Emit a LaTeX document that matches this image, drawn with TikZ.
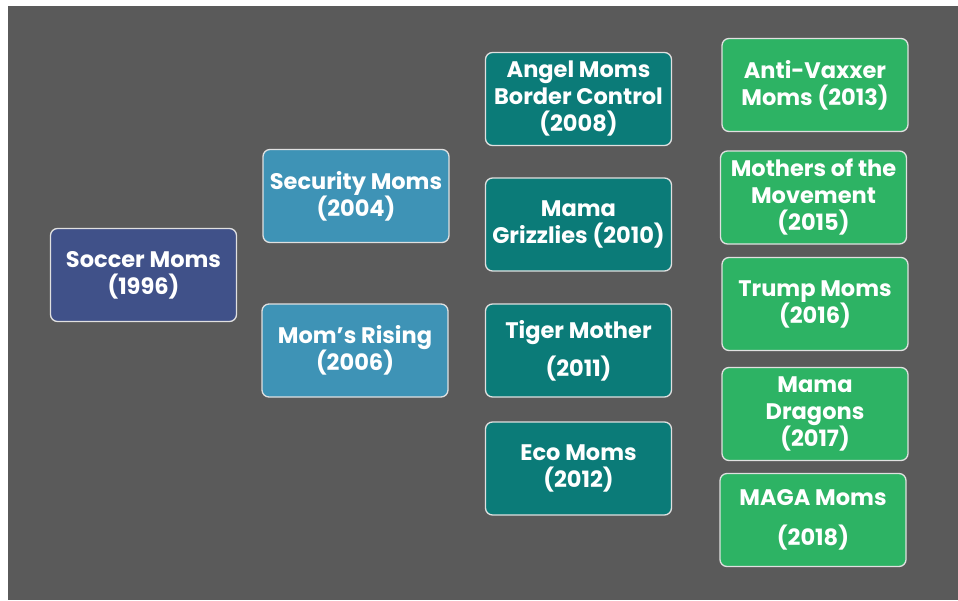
\documentclass[tikz,border=0pt]{standalone}
\usepackage{fontspec}
\setmainfont{Poppins}
\usepackage{tikz}
\definecolor{bggray}{HTML}{5A5A5A}
\definecolor{soccerblue}{HTML}{405189}
\definecolor{secblue}{HTML}{3E93B6}
\definecolor{tealbox}{HTML}{0B7B78}
\definecolor{greenbox}{HTML}{2DB364}
\tikzstyle{box}=[rectangle, rounded corners=7pt, draw=white!88!black, line width=1.3pt, minimum width=186pt, minimum height=93pt, inner sep=0pt, align=center, text=white, font=\fontsize{22.5}{27}\selectfont\bfseries]
\tikzstyle{first}=[box, fill=soccerblue]
\tikzstyle{second}=[box, fill=secblue]
\tikzstyle{third}=[box, fill=tealbox]
\tikzstyle{fourth}=[box, fill=greenbox]

\begin{document}
\begin{tikzpicture}[x=1pt, y=-1pt]
				\useasboundingbox (0,0) rectangle (958,600);
				\fill[bggray] (8,6) rectangle (958,600);
				% 1996
				\node[first] (soccer) at (143.5,275) {Soccer Moms\\(1996)};
				% 2004 - 2006
				\node[second] (security) at (356,196) {Security Moms\\(2004)};
				\node[second] (rising) at (355,350.5) {Mom’s Rising\\(2006)};
				% 2008 - 2012
				\node[third] (angel) at (578.5,99) {Angel Moms\\Border Control\\(2008)};
				\node[third] (grizzlies) at (578.5,224.5) {Mama\\Grizzlies (2010)};
				\node[third] (tiger) at (578.5,350.5) {Tiger Mother\\[11pt](2011)};
				\node[third] (eco) at (578.5,468.5) {Eco Moms\\(2012)};
				% 2013 - 2018
				\node[fourth] (antivax) at (815,85) {Anti-Vaxxer\\Moms (2013)};
				\node[fourth] (movement) at (813.5,197.5) {Mothers of the\\Movement\\(2015)};
				\node[fourth] (trump) at (815,304) {Trump Moms\\(2016)};
				\node[fourth] (dragons) at (815,414) {Mama\\Dragons\\(2017)};
				\node[fourth] (maga) at (813,520) {MAGA Moms\\[13pt](2018)};
			\end{tikzpicture}
\end{document}
